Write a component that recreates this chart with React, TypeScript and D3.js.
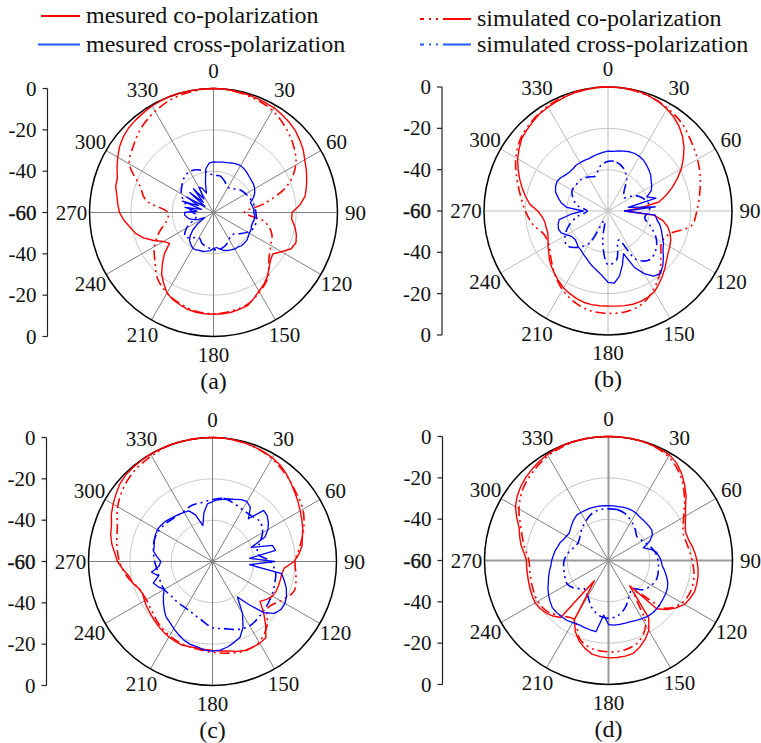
import React from 'react';
import * as d3 from 'd3';

const measCoA = [0, 0, -0.3, -0.5, -0.8, -1.2, -1.5, -2.2, -3, -4, -5.5, -7, -9, -10.5, -12, -13.5, -15, -18, -22, -22, -20, -18.5, -17.5, -18.5, -22, -25, -24, -22, -19.5, -17.5, -16, -14, -12, -11.5, -11, -10.8, -10.8, -10.8, -11, -11.5, -12.5, -13.5, -15, -18, -21, -25, -29, -34, -32, -28, -24, -21, -19, -16.5, -14.5, -13.5, -12.5, -11, -10.5, -8.5, -6.5, -4.5, -3, -2, -1.5, -1, -0.5, -0.2, 0, 0, 0, 0];
const measCrossA = [-35.5, -35.5, -35.2, -35, -34.5, -34, -33.8, -34.2, -34.8, -35.5, -36, -36.3, -37, -38, -39.5, -41.5, -41, -40.5, -40.5, -40, -40, -40.5, -40.5, -40, -40, -39.5, -39, -39, -39, -39.5, -39.5, -40, -40.5, -41, -42, -43, -42.5, -41.5, -41, -40.5, -40.5, -40, -40, -41, -42, -44, -47, -51, -55, -52, -50, -48, -47, -46, -46, -52, -46, -54, -44, -52, -45, -55, -45, -53, -45, -52, -46, -47, -50, -45, -38.5, -36];
const simCoA = [0, -0.5, -1.5, -3, -6, -9.5, -14, -22, -35, -45, -35, -30, -28, -25, -19, -15.5, -12.5, -11.5, -11, -11.5, -13, -15, -18, -23, -27, -32, -37, -38, -27, -22, -13, -9.5, -6, -3.5, -1.5, -0.5];
const simCrossA = [-42, -42, -44, -46, -45, -43, -42, -41, -40, -39.5, -39, -39, -41, -44, -46, -45, -43, -42, -42, -43, -44, -46, -44, -42, -45, -50, -52, -50, -48, -45, -42, -40, -38, -37, -38, -40];

const measCoB = [0, 0, 0, -0.3, -1, -1.8, -3, -4.5, -6.5, -9, -12, -15.5, -19, -23, -27, -31, -35, -45, -52, -38, -33, -30, -28, -26.5, -25.5, -24.5, -23, -21, -19, -17, -15, -14, -13.5, -13.3, -13.5, -13.8, -14, -14, -14, -14.3, -15, -16, -17, -18.5, -20, -21.5, -23, -25, -26.5, -28, -29, -29, -29, -28, -26, -22, -19.5, -17, -14.5, -12, -9.5, -7.5, -5.5, -4.5, -3.5, -2.5, -2, -1.5, -1, -0.5, -0.3, 0];
const measCrossB = [-31, -31, -30.5, -30, -29.5, -29.3, -29.5, -30, -31, -32, -33, -34.5, -35.5, -37, -40, -36, -50, -37, -52, -37, -36, -34, -32.5, -31, -29, -27.5, -25, -22.5, -20.5, -21.5, -25, -30, -38, -33, -28, -25, -25.5, -28.5, -30.5, -32, -33.5, -35, -36, -37, -37.5, -38.5, -39, -38.5, -37, -35, -34.5, -35, -36, -42, -48, -40, -37, -35, -33, -32, -31.5, -32, -33, -33.5, -33.5, -33, -33, -33, -33, -32.5, -32, -31.5];
const simCoB = [0, -0.3, -1, -2.5, -4.5, -7.5, -10, -12.5, -15, -17, -19, -28, -30, -26.5, -21, -16, -12, -10.5, -10.5, -11, -13, -16, -20, -24, -27, -27, -23, -20, -17, -13, -8.5, -5, -3, -1.5, -0.5, 0];
const simCrossB = [-36, -36, -38, -42, -48, -50, -45, -42, -40, -40, -42, -38, -33, -30, -29, -33, -45, -36, -34, -45, -55, -42, -37, -34, -36, -40, -45, -50, -45, -42, -40, -40, -40, -41, -42, -38];

const measCoC = [0, 0, -0.3, -0.6, -1, -1.5, -2, -3, -4.5, -6.3, -8, -9.5, -11, -12.3, -13.5, -15, -16, -18, -20.5, -25, -26, -26, -26, -26, -26.5, -28, -30, -25, -20, -15, -14.3, -14.2, -14.2, -15, -16, -16.5, -17, -17.3, -17.5, -17.3, -17, -17.3, -17.8, -18.5, -19.2, -20, -20.8, -21.3, -22, -22.8, -22, -20, -19, -16.5, -14, -12.5, -10.5, -9, -8, -6, -4.5, -3, -1.5, -0.7, -0.4, -0.2, 0, 0, 0, 0, 0, 0];
const measCrossC = [-31, -30, -29.5, -28.7, -28, -27, -26.6, -28, -33, -25, -25.5, -27, -29, -32, -40, -30, -29, -42, -30, -42, -26, -24, -22, -20.5, -19.5, -19.5, -21, -25, -33, -39, -31, -25, -21, -19.5, -18, -17, -16.6, -17, -18, -18.5, -19.5, -21, -22.5, -24, -25, -27, -29, -31, -33, -31, -29.5, -33, -30, -34, -35, -33, -31, -30.8, -30, -29.5, -29.2, -29.5, -30, -30.8, -31.5, -32, -32.5, -33, -36, -42, -36, -32];
const simCoC = [0, -0.3, -1, -2.5, -5, -7.5, -9.5, -13, -17, -20, -19, -18, -22, -25, -19, -15, -14, -15, -16, -17, -17.5, -18.5, -20, -22, -23, -22, -18, -15, -13, -11, -7, -4, -2, -1, 0, 0];
const simCrossC = [-30, -29, -30, -31, -31, -30, -32, -36, -38, -32, -29, -28, -27, -26, -25, -24, -25, -27, -28, -31, -33, -34, -34, -34, -33, -33, -33, -32, -31, -30, -30, -31, -32, -32, -31, -31];

const measCoD = [0, 0, 0, 0, -0.3, -0.6, -1, -2.5, -5, -8, -11, -14.5, -17, -19, -20.3, -20, -19, -18, -17.2, -16.5, -16, -15.8, -15.7, -16.5, -17.5, -20, -23, -27, -44, -26, -21, -18, -15.5, -13.5, -13, -12.9, -12.9, -13.3, -14, -16, -18.5, -22, -27, -48, -24, -22, -20.5, -19.5, -19, -19.3, -19.6, -20, -20.2, -20.3, -20.3, -19, -17, -15.5, -14, -11, -8, -6, -4.5, -3.3, -2.4, -1.5, -0.8, -0.3, 0, 0, 0, 0];
const measCrossD = [-33.5, -33.5, -33.5, -33.3, -33.2, -33.2, -33.5, -34, -34.2, -34.3, -34.3, -34.4, -35.5, -38, -42, -39, -36.5, -35.5, -34.5, -34, -32.5, -31, -29.5, -28.5, -28, -27.7, -27.3, -27, -26.8, -27, -27.5, -28, -28.5, -28.6, -28.6, -28.6, -29, -33.5, -25, -25.3, -25.6, -25.8, -25.3, -24.7, -24.6, -24.5, -24.5, -25.5, -26.5, -27.7, -29, -30, -31, -32, -32.5, -33.2, -33.7, -34.5, -35, -36, -36.5, -36.8, -36, -35, -34, -33.2, -33.2, -33.2, -33.2, -33.3, -33.3, -33.4];
const simCoD = [0, 0, -0.5, -2, -6, -12, -18, -21.5, -21, -19.5, -18, -17.5, -19, -24, -40, -24, -18, -16, -15.8, -16.5, -19.5, -27, -25, -21.5, -20.5, -21, -21.5, -21.5, -18.5, -15, -10, -6, -3.5, -1.5, -0.5, 0];
const simCrossD = [-35, -35, -36, -38, -40, -42, -41, -39, -37, -36, -35.5, -35, -36, -38, -42, -40, -36, -33, -32, -33, -36, -40, -42, -39, -37, -37.5, -38, -38.5, -40, -42, -43, -42, -40, -38, -36, -35];

const angleTicks = [0, 30, 60, 90, 120, 150, 180, 210, 240, 270, 300, 330];
const gridLevels = [-20, -40];
const axisLabels = ['0', '-20', '-40', '-60', '-40', '-20', '0'];

const RED = '#ff0000';
const BLUE = '#0000ff';
const R = 124;
const FONT = "'Liberation Serif', 'Times New Roman', serif";

const r = d3.scaleLinear().domain([-60, 0]).range([0, R]).clamp(true);

const toPoints = (vals: number[]) => {
  const step = 360 / vals.length;
  return vals.map((v, i) => [(i * step * Math.PI) / 180, r(v)] as [number, number]);
};

const measLine = d3.lineRadial<[number, number]>().curve(d3.curveLinearClosed);
const simLine = d3.lineRadial<[number, number]>().curve(d3.curveCatmullRomClosed.alpha(0.5));

const SIM_DASH = '10,4,2,4,2,4';

type PanelProps = {
  cx: number;
  cy: number;
  label: string;
  co: number[];
  cross: number[];
  simCo: number[];
  simCross: number[];
  spoke: string;
  heavy?: boolean;
};

const Panel = ({ cx, cy, label, co, cross, simCo, simCross, spoke, heavy }: PanelProps) => {
  const ax = cx - 166;
  return (
    <g>
      {/* left radial axis */}
      <g>
        <line x1={ax} x2={ax} y1={cy - R} y2={cy + R} stroke="#222" strokeWidth={1.2} />
        {axisLabels.map((t, i) => {
          const y = cy - R + (i * R) / 3;
          return (
            <g key={i}>
              <line x1={ax - 5} x2={ax} y1={y} y2={y} stroke="#222" strokeWidth={1.2} />
              <text x={ax - 11} y={y} textAnchor="end" dominantBaseline="central" fontSize={21}
                fontFamily={FONT} fill="#111" stroke={t === '-60' ? '#111' : 'none'} strokeWidth={0.4}>
                {t}
              </text>
            </g>
          );
        })}
      </g>
      <g transform={`translate(${cx},${cy})`}>
        {gridLevels.map((g) => (
          <circle key={g} r={r(g)} fill="none" stroke="#c8c8c8" strokeWidth={1} />
        ))}
        {angleTicks.map((a) => {
          const t = (a * Math.PI) / 180;
          const thick = heavy && a % 90 === 0;
          return (
            <line key={a} x1={0} y1={0} x2={R * Math.sin(t)} y2={-R * Math.cos(t)}
              stroke={thick ? '#999' : spoke} strokeWidth={thick ? 2 : 1} />
          );
        })}
        <circle r={R} fill="none" stroke="#000" strokeWidth={1.5} />
        <path d={simLine(toPoints(simCo)) ?? ''} fill="none" stroke={RED} strokeWidth={1.6} strokeDasharray={SIM_DASH} />
        <path d={simLine(toPoints(simCross)) ?? ''} fill="none" stroke={BLUE} strokeWidth={1.6} strokeDasharray={SIM_DASH} />
        <path d={measLine(toPoints(co)) ?? ''} fill="none" stroke={RED} strokeWidth={1.4} strokeLinejoin="round" />
        <path d={measLine(toPoints(cross)) ?? ''} fill="none" stroke={BLUE} strokeWidth={1.3} strokeLinejoin="round" />
        {angleTicks.map((a) => {
          const t = (a * Math.PI) / 180;
          const lr = R + 18;
          return (
            <text key={a} x={lr * Math.sin(t)} y={-lr * Math.cos(t)} textAnchor="middle"
              dominantBaseline="central" fontSize={21} fontFamily={FONT} fill="#111">
              {a}
            </text>
          );
        })}
        <text x={0} y={168} textAnchor="middle" dominantBaseline="central" fontSize={24} fontFamily={FONT} fill="#111">
          {label}
        </text>
      </g>
    </g>
  );
};

const App = () => {
  return (
    <svg width={761} height={743} style={{ display: 'block', position: 'absolute', left: 0, top: 0 }}>
      <rect width={761} height={743} fill="#fff" />
      {/* legend */}
      <g fontFamily={FONT} fontSize={24} fill="#111">
        <line x1={41} x2={80} y1={16} y2={16} stroke={RED} strokeWidth={2} />
        <text x={86} y={23}>mesured co-polarization</text>
        <line x1={38} x2={80} y1={44.5} y2={44.5} stroke="#1e5aff" strokeWidth={2} />
        <text x={86} y={51.5}>mesured cross-polarization</text>
        <line x1={420} x2={471} y1={19} y2={19} stroke={RED} strokeWidth={2} strokeDasharray="4,5,2,5,2,5,30" />
        <text x={477} y={26}>simulated co-polarization</text>
        <line x1={420} x2={471} y1={44.5} y2={44.5} stroke="#1e5aff" strokeWidth={2} strokeDasharray="4,5,2,5,2,5,30" />
        <text x={477} y={51.5}>simulated cross-polarization</text>
      </g>
      <Panel cx={213.5} cy={212.5} label="(a)" co={measCoA} cross={measCrossA} simCo={simCoA} simCross={simCrossA} spoke="#808080" />
      <Panel cx={608} cy={211} label="(b)" co={measCoB} cross={measCrossB} simCo={simCoB} simCross={simCrossB} spoke="#bdbdbd" />
      <Panel cx={212.5} cy={561.5} label="(c)" co={measCoC} cross={measCrossC} simCo={simCoC} simCross={simCrossC} spoke="#808080" />
      <Panel cx={608.5} cy={560.5} label="(d)" co={measCoD} cross={measCrossD} simCo={simCoD} simCross={simCrossD} spoke="#808080" heavy />
    </svg>
  );
};

export default App;
